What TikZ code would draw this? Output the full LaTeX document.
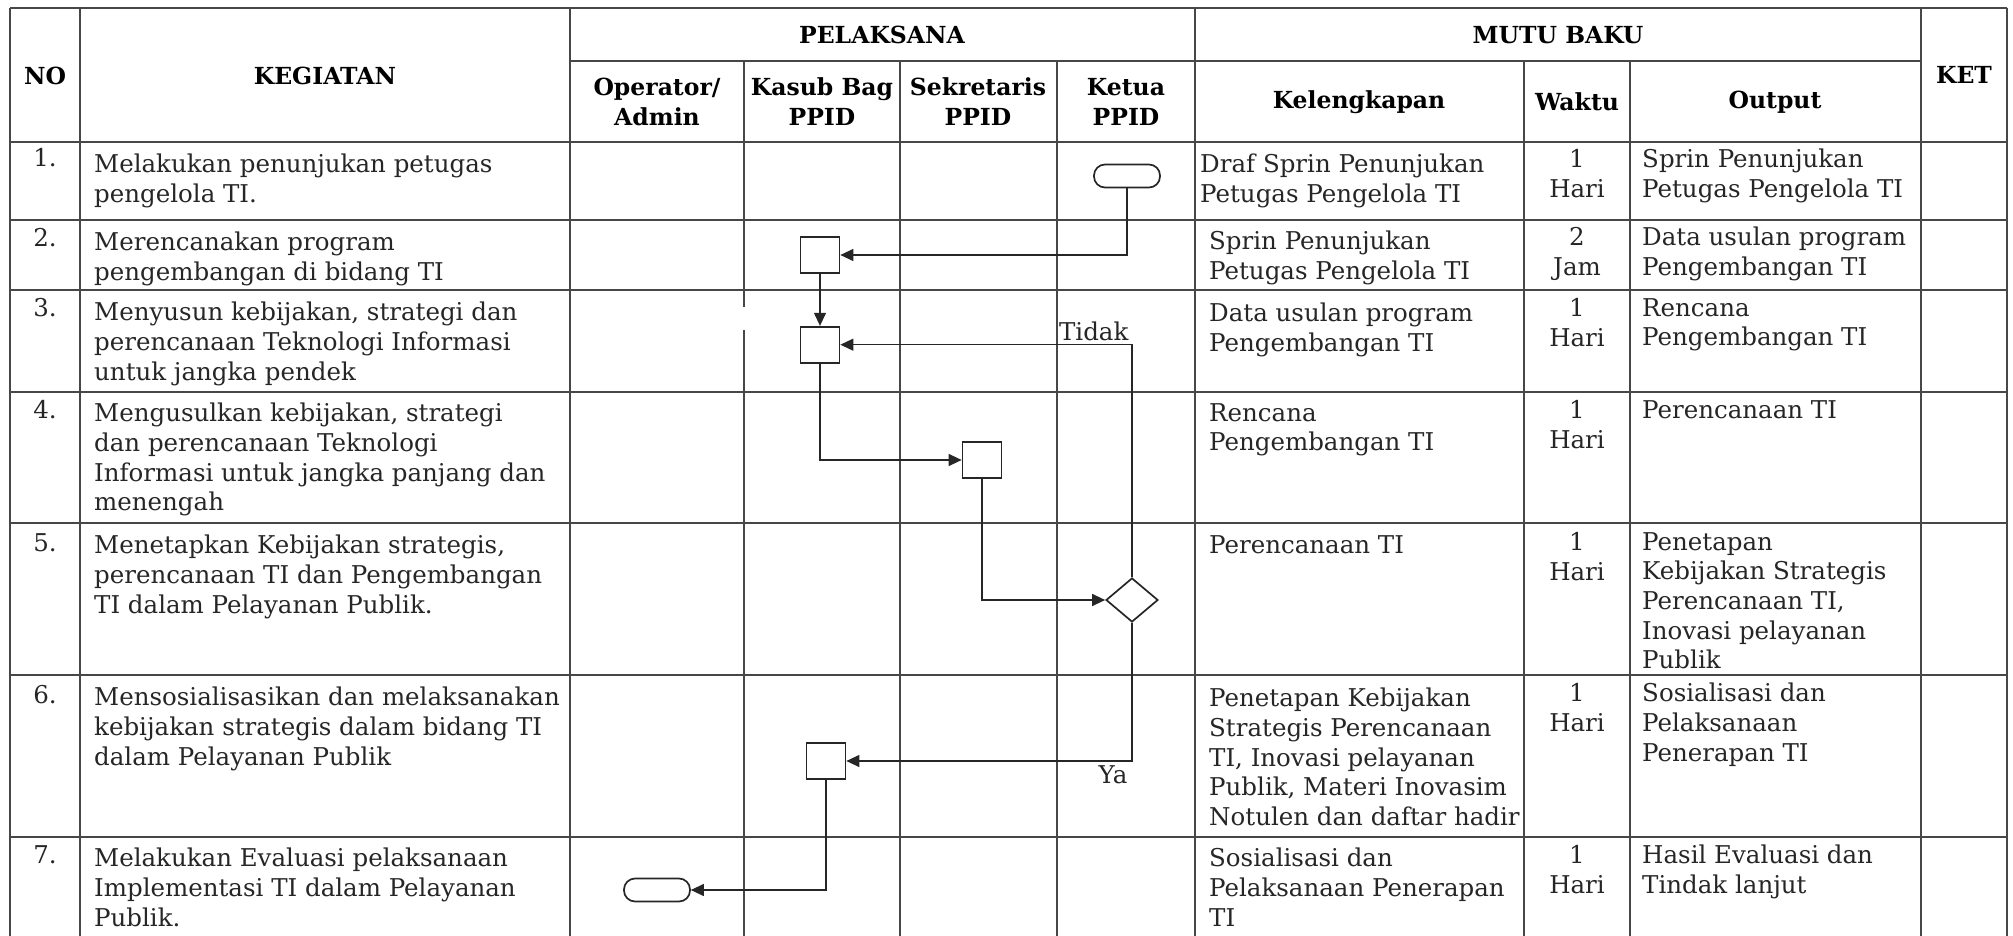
\documentclass[tikz,border=0pt]{standalone}
\usepackage{fontspec}
\setmainfont{DejaVu Serif}
\usepackage{tikz}
\usetikzlibrary{positioning}
\usetikzlibrary{shapes.geometric}
\usetikzlibrary{arrows.meta}
\tikzstyle{gridline} = [line width=1.7pt, black!72]
\tikzstyle{flowline} = [line width=1.2pt, black!85]
\tikzstyle{stepbox} = [draw, line width=1.7pt, black!85, minimum width=39pt, minimum height=36pt, inner sep=0pt]
\tikzstyle{termnode} = [draw, line width=1.7pt, black!85, rounded corners=11pt, minimum width=66pt, minimum height=23pt, inner sep=0pt]
\tikzstyle{condnode} = [draw, diamond, line width=1.7pt, black!85, minimum width=52pt, minimum height=44pt, inner sep=0pt]
\tikzstyle{headtext} = [align=center, inner sep=0pt, font=\fontsize{23.5}{30}\selectfont\bfseries]
\tikzstyle{celltext} = [anchor=north west, align=left, inner sep=0pt, text=black!85, font=\fontsize{24.5}{29.7}\selectfont]
\tikzstyle{midtext} = [anchor=north, align=center, inner sep=0pt, text=black!85, font=\fontsize{24.5}{29.7}\selectfont]

\begin{document}
\begin{tikzpicture}[x=1pt, y=-1pt, >={Triangle[length=13pt, width=12pt]}]
  \useasboundingbox (0,0) rectangle (2013,936);

  \draw[gridline] (10,8) -- (2007,8);
  \draw[gridline] (570,61) -- (1921,61);
  \draw[gridline] (10,142) -- (2007,142);
  \draw[gridline] (10,220) -- (2007,220);
  \draw[gridline] (10,290) -- (2007,290);
  \draw[gridline] (10,392) -- (2007,392);
  \draw[gridline] (10,523) -- (2007,523);
  \draw[gridline] (10,675) -- (2007,675);
  \draw[gridline] (10,837) -- (2007,837);
  \draw[gridline] (10,8) -- (10,936);
  \draw[gridline] (80,8) -- (80,936);
  \draw[gridline] (570,8) -- (570,936);
  \draw[gridline] (744,61) -- (744,307);
  \draw[gridline] (744,330) -- (744,936);
  \draw[gridline] (900,61) -- (900,936);
  \draw[gridline] (1057,61) -- (1057,936);
  \draw[gridline] (1195,8) -- (1195,936);
  \draw[gridline] (1524,61) -- (1524,936);
  \draw[gridline] (1630,61) -- (1630,936);
  \draw[gridline] (1921,8) -- (1921,936);
  \draw[gridline] (2007,8) -- (2007,936);

  \node[headtext] (no) at (45,76) {NO};
  \node[headtext] (kegiatan) at (325,76) {KEGIATAN};
  \node[headtext] (pelaksana) at (882,35) {PELAKSANA};
  \node[headtext] (mutubaku) at (1558,35) {MUTU BAKU};
  \node[headtext] (ket) at (1964,75) {KET};
  \node[headtext] (operator) at (657,102) {Operator/\\Admin};
  \node[headtext] (kasub) at (822,102) {Kasub Bag\\PPID};
  \node[headtext] (sekretaris) at (978,102) {Sekretaris\\PPID};
  \node[headtext] (ketua) at (1126,102) {Ketua\\PPID};
  \node[headtext] (kelengkapan) at (1359,102) {Kelengkapan};
  \node[headtext] (waktu) at (1577,102) {Waktu};
  \node[headtext] (output) at (1775,102) {Output};

  \node[midtext] (no1) at (45,148) {1.};
  \node[celltext] (keg1) at (94,154) {Melakukan penunjukan petugas\\pengelola TI.};
  \node[celltext] (kel1) at (1200,154) {Draf Sprin Penunjukan\\Petugas Pengelola TI};
  \node[midtext] (wkt1) at (1577,149) {1\\Hari};
  \node[celltext] (out1) at (1642,149) {Sprin Penunjukan\\Petugas Pengelola TI};

  \node[midtext] (no2) at (45,228) {2.};
  \node[celltext] (keg2) at (94,232) {Merencanakan program\\pengembangan di bidang TI};
  \node[celltext] (kel2) at (1209,231) {Sprin Penunjukan\\Petugas Pengelola TI};
  \node[midtext] (wkt2) at (1577,227) {2\\Jam};
  \node[celltext] (out2) at (1642,227) {Data usulan program\\Pengembangan TI};

  \node[midtext] (no3) at (45,298) {3.};
  \node[celltext] (keg3) at (94,302) {Menyusun kebijakan, strategi dan\\perencanaan Teknologi Informasi\\untuk jangka pendek};
  \node[celltext] (kel3) at (1209,303) {Data usulan program\\Pengembangan TI};
  \node[midtext] (wkt3) at (1577,298) {1\\Hari};
  \node[celltext] (out3) at (1642,298) {Rencana\\Pengembangan TI};

  \node[midtext] (no4) at (45,400) {4.};
  \node[celltext] (keg4) at (94,403) {Mengusulkan kebijakan, strategi\\dan perencanaan Teknologi\\Informasi untuk jangka panjang dan\\menengah};
  \node[celltext] (kel4) at (1209,403) {Rencana\\Pengembangan TI};
  \node[midtext] (wkt4) at (1577,400) {1\\Hari};
  \node[celltext] (out4) at (1642,400) {Perencanaan TI};

  \node[midtext] (no5) at (45,533) {5.};
  \node[celltext] (keg5) at (94,535) {Menetapkan Kebijakan strategis,\\perencanaan TI dan Pengembangan\\TI dalam Pelayanan Publik.};
  \node[celltext] (kel5) at (1209,535) {Perencanaan TI};
  \node[midtext] (wkt5) at (1577,532) {1\\Hari};
  \node[celltext] (out5) at (1642,532) {Penetapan\\Kebijakan Strategis\\Perencanaan TI,\\Inovasi pelayanan\\Publik};

  \node[midtext] (no6) at (45,685) {6.};
  \node[celltext] (keg6) at (94,687) {Mensosialisasikan dan melaksanakan\\kebijakan strategis dalam bidang TI\\dalam Pelayanan Publik};
  \node[celltext] (kel6) at (1209,688) {Penetapan Kebijakan\\Strategis Perencanaan\\TI, Inovasi pelayanan\\Publik, Materi Inovasim\\Notulen dan daftar hadir};
  \node[midtext] (wkt6) at (1577,683) {1\\Hari};
  \node[celltext] (out6) at (1642,683) {Sosialisasi dan\\Pelaksanaan\\Penerapan TI};

  \node[midtext] (no7) at (45,845) {7.};
  \node[celltext] (keg7) at (94,848) {Melakukan Evaluasi pelaksanaan\\Implementasi TI dalam Pelayanan\\Publik.};
  \node[celltext] (kel7) at (1209,848) {Sosialisasi dan\\Pelaksanaan Penerapan\\TI};
  \node[midtext] (wkt7) at (1577,845) {1\\Hari};
  \node[celltext] (out7) at (1642,845) {Hasil Evaluasi dan\\Tindak lanjut};

  \node[termnode] (start) at (1127,176) {};
  \node[stepbox] (plan) at (820,255) {};
  \node[stepbox, below=52pt of plan] (draft) {};
  \node[stepbox] (propose) at (982,460) {};
  \node[condnode] (decide) at (1132,600) {};
  \node[stepbox] (socialize) at (826,761) {};
  \node[termnode] (finish) at (657,890) {};

  \draw[flowline, ->] (start) |- (plan);
  \draw[flowline, ->] (plan) -- (draft);
  \draw[flowline, ->] (draft) |- (propose);
  \draw[flowline, ->] (propose) |- (decide);
  \draw[flowline, ->] (decide) |- (draft)
    node[pos=0.5, anchor=south east, inner sep=3pt, text=black!85, font=\fontsize{24.5}{29.7}\selectfont] {Tidak};
  \draw[flowline, ->] (decide) |- (socialize)
    node[pos=0.5, anchor=north east, inner sep=4pt, text=black!85, font=\fontsize{24.5}{29.7}\selectfont] {Ya};
  \draw[flowline, ->] (socialize) |- (finish);
\end{tikzpicture}
\end{document}
